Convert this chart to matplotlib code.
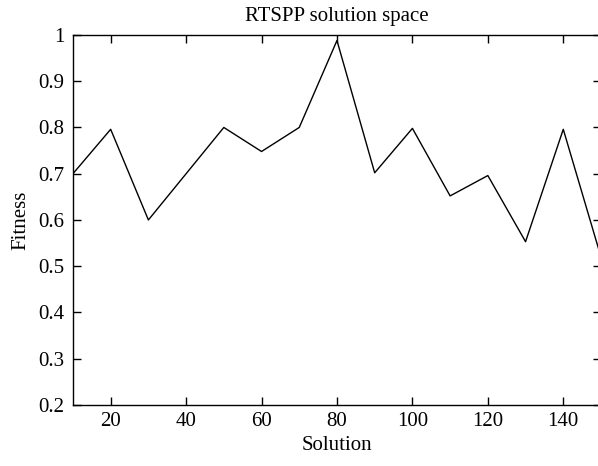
import matplotlib
matplotlib.use("Agg")
import matplotlib.pyplot as plt

solution = [10, 20, 30, 40, 50, 60, 70, 80, 90, 100, 110, 120, 130, 140, 150]
fitness = [0.70, 0.796, 0.60, 0.70, 0.80, 0.748, 0.80, 0.988, 0.702, 0.798,
           0.652, 0.696, 0.553, 0.796, 0.52]

plt.rcParams['font.family'] = ['Liberation Serif', 'DejaVu Serif']
plt.rcParams['font.size'] = 15

fig = plt.figure(figsize=(5.98, 4.66), dpi=100)
ax = fig.add_axes([0.122, 0.131, 0.883, 0.794])

ax.plot(solution, fitness, color='black', linewidth=1.0)

ax.set_xlim(10, 150)
ax.set_ylim(0.2, 1.0)
ax.set_xticks([20, 40, 60, 80, 100, 120, 140])
ax.set_yticks([0.2, 0.3, 0.4, 0.5, 0.6, 0.7, 0.8, 0.9, 1.0])
ax.set_yticklabels(['0.2', '0.3', '0.4', '0.5', '0.6', '0.7', '0.8', '0.9', '1'])
ax.tick_params(direction='in', top=True, right=True, length=6, width=1,
               labelsize=15)
ax.tick_params(axis='y', pad=6)
ax.tick_params(axis='x', pad=5)

for s in ax.spines.values():
    s.set_linewidth(1.0)

ax.set_title('RTSPP solution space', fontsize=15, pad=10)
ax.set_xlabel('Solution', fontsize=15, labelpad=4)
ax.set_ylabel('Fitness', fontsize=15, labelpad=6)

fig.savefig('out.png', dpi=100)
